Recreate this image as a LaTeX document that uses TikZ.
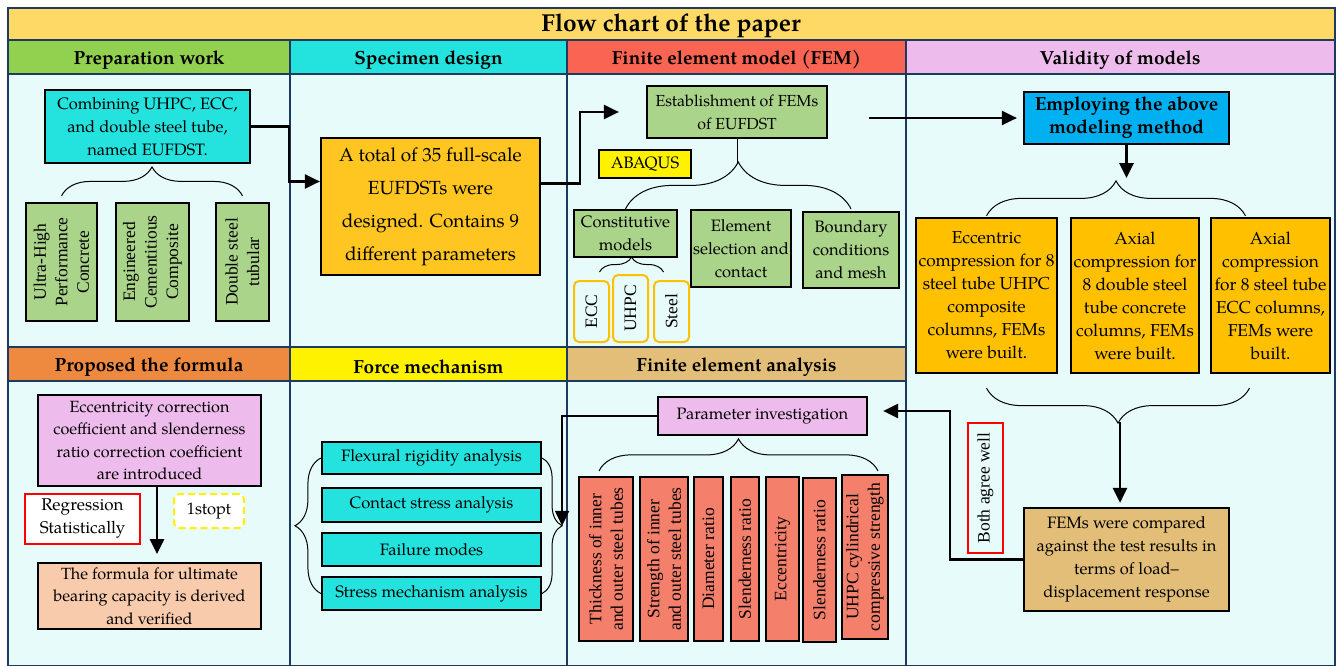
\documentclass[tikz,border=0pt]{standalone}
\usepackage{fontspec}
\setmainfont{TeX Gyre Pagella}
\newfontfamily\tms{Liberation Serif}
\usetikzlibrary{arrows.meta,decorations.pathreplacing,calc}
\definecolor{ttl}{HTML}{FFD966}
\definecolor{bg}{HTML}{E8FBFB}
\definecolor{gridc}{HTML}{1F3A5F}
\definecolor{hgreen}{HTML}{92D050}
\definecolor{cyanb}{HTML}{24E3DF}
\definecolor{hred}{HTML}{FA6452}
\definecolor{pinkb}{HTML}{EEBCEC}
\definecolor{horange}{HTML}{EE8A40}
\definecolor{tanb}{HTML}{E2BE78}
\definecolor{greenb}{HTML}{A9D48A}
\definecolor{goldb}{HTML}{FFC520}
\definecolor{orangeb}{HTML}{FFC000}
\definecolor{salmon}{HTML}{F47F6B}
\definecolor{peach}{HTML}{F8CBAD}
\definecolor{blueb}{HTML}{00B0F0}

\begin{document}
\begin{tikzpicture}[x=1pt,y=-1pt,
  box/.style={draw=black,line width=2.2pt,align=center,inner sep=1pt,
    font=\fontsize{16.5}{23}\selectfont},
  vbox/.style={box,rotate=90,font=\tms\fontsize{17.5}{21.5}\selectfont},
  tag/.style={vbox,draw=orangeb,rounded corners=5pt,line width=2pt,
    minimum width=61pt,minimum height=35pt},
  hd/.style={font=\bfseries\fontsize{19}{21}\selectfont},
  arr/.style={line width=2.4pt,-{Triangle[length=15pt,width=14pt]}},
  brc/.style={draw=black,line width=1pt,decorate,decoration={brace,amplitude=#1}}]
\useasboundingbox (0,0) rectangle (1338,666);
% panels and headers
\fill[bg] (8,8) rectangle (1335,666);
\fill[ttl] (8,8) rectangle (1335,40);
\fill[hgreen] (8,40) rectangle (290,74);
\fill[cyanb] (290,40) rectangle (567,74);
\fill[hred] (567,40) rectangle (906,74);
\fill[pinkb] (906,40) rectangle (1335,74);
\fill[horange] (8,347) rectangle (290,381);
\fill[yellow] (290,347) rectangle (567,381);
\fill[tanb] (567,347) rectangle (906,381);
\draw[gridc,line width=2.4pt] (8,8) rectangle (1335,666) (8,40) -- (1335,40)
  (8,74) -- (1335,74) (290,40) -- (290,666) (567,40) -- (567,666)
  (906,40) -- (906,666) (8,347) -- (906,347) (8,381) -- (906,381);
\node[font=\bfseries\fontsize{24.5}{26}\selectfont] (title) at (671,26) {Flow chart of the paper};
\node[hd] (hprep) at (149,60) {Preparation work};
\node[hd] (hspec) at (428.5,60) {Specimen design};
\node[hd] (hfem) at (736.5,60) {Finite element model (FEM)};
\node[hd] (hvalid) at (1120,60) {Validity of models};
\node[hd] (hform) at (149,367) {Proposed the formula};
\node[hd] (hforce) at (428.5,367) {Force mechanism};
\node[hd] (hfea) at (736.5,367) {Finite element analysis};

% preparation work
\node[box,fill=cyanb,minimum width=205pt,minimum height=73pt] (combine) at (147.5,126.5)
  {Combining UHPC, ECC,\\ and double steel tube,\\ named EUFDST.};
\node[vbox,fill=greenb,minimum width=118pt,minimum height=71pt] (uhpcv) at (61.5,262)
  {Ultra-High\\ Performance\\ Concrete};
\node[vbox,fill=greenb,minimum width=118pt,minimum height=73pt] (eccv) at (152.5,262)
  {Engineered\\ Cementitious\\ Composite};
\node[vbox,fill=greenb,minimum width=118pt,minimum height=53pt] (dstv) at (242.5,262)
  {Double steel\\ tubular};
% rotated nodes: east is the visual top
\draw[brc=29pt] ([yshift=6pt]uhpcv.east) -- ([yshift=6pt]dstv.east);

% specimen design
\node[box,fill=goldb,minimum width=219pt,minimum height=137pt,
  font=\fontsize{19}{33}\selectfont] (spec) at (430.5,206.5)
  {A total of 35 full-scale\\ EUFDSTs were\\ designed. Contains 9\\ different parameters};
\draw[arr] (combine.east) -- ++(38,0) |- ([yshift=25pt]spec.west);

% finite element model
\node[box,fill=greenb,minimum width=180pt,minimum height=52pt,
  font=\fontsize{16}{23}\selectfont] (estab) at (737,112)
  {Establishment of FEMs\\ of EUFDST};
\node[box,fill=yellow,line width=1.6pt,minimum width=92pt,minimum height=28pt] (abaqus) at (645,164) {ABAQUS};
\node[box,fill=greenb,minimum width=103pt,minimum height=47pt] (const) at (625.5,233.5)
  {Constitutive\\ models};
\node[box,fill=greenb,minimum width=100pt,minimum height=77pt] (elem) at (741,248.5)
  {Element\\ selection and\\ contact};
\node[box,fill=greenb,minimum width=96pt,minimum height=76pt] (bound) at (851,250)
  {Boundary\\ conditions\\ and mesh};
\node[tag] (eccr) at (591.5,311.5) {ECC};
\node[tag,minimum width=67pt] (uhpcr) at (630.5,308.5) {UHPC};
\node[tag] (steelr) at (671.5,311.5) {Steel};
\draw[arr] ([yshift=23pt]spec.east) -- ++(39,0) |- ([xshift=-27pt]estab.west);
\draw[line width=1pt] (estab.south) -- ++(0,25);
\draw[brc=47pt] (const.north) -- (const.north -| bound.north);
\draw[brc=15pt] ([xshift=8pt,yshift=8pt]eccr.east) -- ([xshift=-8pt,yshift=8pt]eccr.east -| steelr.east);

% validity of models
\node[box,fill=blueb,minimum width=205pt,minimum height=52pt,
  font=\bfseries\fontsize{19}{23}\selectfont] (employ) at (1126.5,118)
  {Employing the above\\ modeling method};
\node[box,fill=orangeb,minimum width=141pt,minimum height=155pt,
  font=\fontsize{17.3}{23}\selectfont] (vb1) at (986.5,295.5)
  {Eccentric\\ compression for 8\\ steel tube UHPC\\ composite\\ columns, FEMs\\ were built.};
\node[box,fill=orangeb,minimum width=128pt,minimum height=155pt,
  font=\fontsize{17.3}{23}\selectfont] (vb2) at (1135,295.5)
  {Axial\\ compression for\\ 8 double steel\\ tube concrete\\ columns, FEMs\\ were built.};
\node[box,fill=orangeb,minimum width=119pt,minimum height=155pt,
  font=\fontsize{17.3}{23}\selectfont] (vb3) at (1270.5,295.5)
  {Axial\\ compression\\ for 8 steel tube\\ ECC columns,\\ FEMs were\\ built.};
\node[box,fill=tanb,minimum width=205pt,minimum height=103pt] (compare) at (1126.5,559.5)
  {FEMs were compared\\ against the test results in\\ terms of load–\\ displacement response};
\node[vbox,draw=red,line width=1.6pt,minimum width=130pt,minimum height=35pt] (agree) at (985.5,488)
  {Both agree well};
\draw[arr] ([xshift=41pt]estab.east |- employ.west) -- ([xshift=-6pt]employ.west);
\draw[arr] (employ.south) -- ++(0,33);
\draw[brc=35pt] ([yshift=1pt]vb1.north) -- ([xshift=-25pt,yshift=1pt]vb3.north);
\draw[brc=35pt,decoration={mirror}] ([yshift=-14pt]vb1.south) -- ([xshift=-21pt,yshift=-14pt]vb3.south);
\coordinate (vtip) at (1120,422);
\draw[arr] (vtip) -- ([yshift=4pt]vtip |- compare.north);

% finite element analysis
\node[box,fill=pinkb,minimum width=209pt,minimum height=38pt] (param) at (762.5,416)
  {Parameter investigation};
\node[vbox,fill=salmon,minimum width=164pt,minimum height=54pt] (p1) at (606,559)
  {Thickness of inner\\ and outer steel tubes};
\node[vbox,fill=salmon,minimum width=164pt,minimum height=48pt] (p2) at (664,559)
  {Strength of inner\\ and outer steel tubes};
\node[vbox,fill=salmon,minimum width=164pt,minimum height=29pt] (p3) at (708.5,559) {Diameter ratio};
\node[vbox,fill=salmon,minimum width=164pt,minimum height=28pt] (p4) at (745,559) {Slenderness ratio};
\node[vbox,fill=salmon,minimum width=164pt,minimum height=33pt] (p5) at (782.5,559) {Eccentricity};
\node[vbox,fill=salmon,minimum width=164pt,minimum height=33pt] (p6) at (819.5,560) {Slenderness ratio};
\node[vbox,fill=salmon,minimum width=164pt,minimum height=46pt] (p7) at (865,557)
  {UHPC cylindrical\\ compressive strength};
\draw[brc=32pt] ([xshift=-7pt,yshift=5pt]p1.east) -- ([xshift=13pt,yshift=5pt]p1.east -| p7.east);
\draw[arr] (compare.west) -- ++(-73,0) |- ([xshift=15pt,yshift=5pt]param.east);

% force mechanism
\node[box,fill=cyanb,minimum width=219pt,minimum height=32pt] (flex) at (431.5,458) {Flexural rigidity analysis};
\node[box,fill=cyanb,minimum width=219pt,minimum height=34pt] (contact) at (431.5,505) {Contact stress analysis};
\node[box,fill=cyanb,minimum width=219pt,minimum height=33pt] (fail) at (431.5,549.5) {Failure modes};
\node[box,fill=cyanb,minimum width=219pt,minimum height=33pt] (stress) at (431.5,593.5) {Stress mechanism analysis};
\draw[brc=26pt] (stress.west) -- (flex.west);
\draw[brc=20pt] (flex.east) -- (stress.east);
\coordinate (ftip) at ($(flex.east)!0.5!(stress.east)+(20,0)$);
\draw[arr] (param.west) -| (ftip);

% proposed the formula
\node[box,fill=pinkb,minimum width=223pt,minimum height=91pt,
  font=\fontsize{16.2}{22.5}\selectfont] (ecc) at (149.5,440.5)
  {Eccentricity correction\\ coefficient and slenderness\\ ratio correction coefficient\\ are introduced};
\node[box,draw=red,fill=white,line width=1.6pt,minimum width=115pt,minimum height=50pt,
  font=\fontsize{17}{23}\selectfont] (regr) at (82.5,519)
  {Regression\\ Statistically};
\node[box,draw=yellow,fill=white,line width=2pt,dash pattern=on 7pt off 4pt,rounded corners=5pt,
  minimum width=70pt,minimum height=34pt] (stopt) at (209,511) {1stopt};
\node[box,fill=peach,minimum width=223pt,minimum height=66pt,
  font=\fontsize{16.2}{22.5}\selectfont] (formula) at (149.5,596)
  {The formula for ultimate\\ bearing capacity is derived\\ and verified};
\draw[arr] ([xshift=7.5pt]ecc.south) -- ++(0,67);
\end{tikzpicture}
\end{document}
